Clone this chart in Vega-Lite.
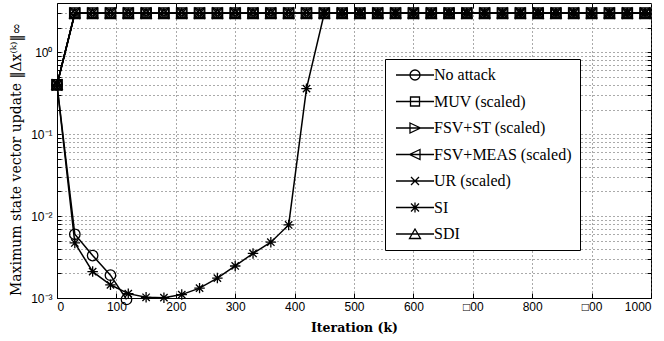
{
  "$schema": "https://vega.github.io/schema/vega-lite/v6.json",
  "width": 594,
  "height": 295,
  "autosize": {"type": "none"},
  "padding": {"left": 57, "top": 3, "right": 13, "bottom": 43},
  "background": "white",
  "config": {
    "view": {"stroke": "black", "strokeWidth": 1},
    "axis": {
      "domainColor": "black",
      "tickColor": "black",
      "labelColor": "black",
      "titleColor": "black",
      "labelFont": "Liberation Sans",
      "labelFontSize": 12,
      "titleFont": "DejaVu Serif",
      "titleFontWeight": "bold",
      "gridColor": "#555555",
      "gridDash": [1, 3],
      "gridOpacity": 1,
      "gridWidth": 1,
      "labelOverlap": false
    }
  },
  "data": {
    "values": [
      {"s": "No attack", "k": 0, "v": 0.4},
      {"s": "No attack", "k": 30, "v": 0.006},
      {"s": "No attack", "k": 60, "v": 0.0033},
      {"s": "No attack", "k": 90, "v": 0.0019},
      {"s": "No attack", "k": 117, "v": 0.00096},
      {"s": "SI", "k": 0, "v": 0.4},
      {"s": "SI", "k": 30, "v": 0.0047},
      {"s": "SI", "k": 60, "v": 0.0021},
      {"s": "SI", "k": 90, "v": 0.00145},
      {"s": "SI", "k": 120, "v": 0.00113},
      {"s": "SI", "k": 150, "v": 0.00102},
      {"s": "SI", "k": 180, "v": 0.00101},
      {"s": "SI", "k": 210, "v": 0.0011},
      {"s": "SI", "k": 240, "v": 0.00132},
      {"s": "SI", "k": 270, "v": 0.00175},
      {"s": "SI", "k": 300, "v": 0.00246},
      {"s": "SI", "k": 330, "v": 0.0035},
      {"s": "SI", "k": 360, "v": 0.0048},
      {"s": "SI", "k": 390, "v": 0.0078},
      {"s": "SI", "k": 420, "v": 0.36},
      {"s": "SI", "k": 450, "v": 3},
      {"s": "SI", "k": 480, "v": 3},
      {"s": "SI", "k": 510, "v": 3},
      {"s": "SI", "k": 540, "v": 3},
      {"s": "SI", "k": 570, "v": 3},
      {"s": "SI", "k": 600, "v": 3},
      {"s": "SI", "k": 630, "v": 3},
      {"s": "SI", "k": 660, "v": 3},
      {"s": "SI", "k": 690, "v": 3},
      {"s": "SI", "k": 720, "v": 3},
      {"s": "SI", "k": 750, "v": 3},
      {"s": "SI", "k": 780, "v": 3},
      {"s": "SI", "k": 810, "v": 3},
      {"s": "SI", "k": 840, "v": 3},
      {"s": "SI", "k": 870, "v": 3},
      {"s": "SI", "k": 900, "v": 3},
      {"s": "SI", "k": 930, "v": 3},
      {"s": "SI", "k": 960, "v": 3},
      {"s": "SI", "k": 990, "v": 3},
      {"s": "MUV (scaled)", "k": 0, "v": 0.4},
      {"s": "MUV (scaled)", "k": 30, "v": 3},
      {"s": "MUV (scaled)", "k": 60, "v": 3},
      {"s": "MUV (scaled)", "k": 90, "v": 3},
      {"s": "MUV (scaled)", "k": 120, "v": 3},
      {"s": "MUV (scaled)", "k": 150, "v": 3},
      {"s": "MUV (scaled)", "k": 180, "v": 3},
      {"s": "MUV (scaled)", "k": 210, "v": 3},
      {"s": "MUV (scaled)", "k": 240, "v": 3},
      {"s": "MUV (scaled)", "k": 270, "v": 3},
      {"s": "MUV (scaled)", "k": 300, "v": 3},
      {"s": "MUV (scaled)", "k": 330, "v": 3},
      {"s": "MUV (scaled)", "k": 360, "v": 3},
      {"s": "MUV (scaled)", "k": 390, "v": 3},
      {"s": "MUV (scaled)", "k": 420, "v": 3},
      {"s": "MUV (scaled)", "k": 450, "v": 3},
      {"s": "MUV (scaled)", "k": 480, "v": 3},
      {"s": "MUV (scaled)", "k": 510, "v": 3},
      {"s": "MUV (scaled)", "k": 540, "v": 3},
      {"s": "MUV (scaled)", "k": 570, "v": 3},
      {"s": "MUV (scaled)", "k": 600, "v": 3},
      {"s": "MUV (scaled)", "k": 630, "v": 3},
      {"s": "MUV (scaled)", "k": 660, "v": 3},
      {"s": "MUV (scaled)", "k": 690, "v": 3},
      {"s": "MUV (scaled)", "k": 720, "v": 3},
      {"s": "MUV (scaled)", "k": 750, "v": 3},
      {"s": "MUV (scaled)", "k": 780, "v": 3},
      {"s": "MUV (scaled)", "k": 810, "v": 3},
      {"s": "MUV (scaled)", "k": 840, "v": 3},
      {"s": "MUV (scaled)", "k": 870, "v": 3},
      {"s": "MUV (scaled)", "k": 900, "v": 3},
      {"s": "MUV (scaled)", "k": 930, "v": 3},
      {"s": "MUV (scaled)", "k": 960, "v": 3},
      {"s": "MUV (scaled)", "k": 990, "v": 3},
      {"s": "FSV+ST (scaled)", "k": 0, "v": 0.4},
      {"s": "FSV+ST (scaled)", "k": 30, "v": 3},
      {"s": "FSV+ST (scaled)", "k": 60, "v": 3},
      {"s": "FSV+ST (scaled)", "k": 90, "v": 3},
      {"s": "FSV+ST (scaled)", "k": 120, "v": 3},
      {"s": "FSV+ST (scaled)", "k": 150, "v": 3},
      {"s": "FSV+ST (scaled)", "k": 180, "v": 3},
      {"s": "FSV+ST (scaled)", "k": 210, "v": 3},
      {"s": "FSV+ST (scaled)", "k": 240, "v": 3},
      {"s": "FSV+ST (scaled)", "k": 270, "v": 3},
      {"s": "FSV+ST (scaled)", "k": 300, "v": 3},
      {"s": "FSV+ST (scaled)", "k": 330, "v": 3},
      {"s": "FSV+ST (scaled)", "k": 360, "v": 3},
      {"s": "FSV+ST (scaled)", "k": 390, "v": 3},
      {"s": "FSV+ST (scaled)", "k": 420, "v": 3},
      {"s": "FSV+ST (scaled)", "k": 450, "v": 3},
      {"s": "FSV+ST (scaled)", "k": 480, "v": 3},
      {"s": "FSV+ST (scaled)", "k": 510, "v": 3},
      {"s": "FSV+ST (scaled)", "k": 540, "v": 3},
      {"s": "FSV+ST (scaled)", "k": 570, "v": 3},
      {"s": "FSV+ST (scaled)", "k": 600, "v": 3},
      {"s": "FSV+ST (scaled)", "k": 630, "v": 3},
      {"s": "FSV+ST (scaled)", "k": 660, "v": 3},
      {"s": "FSV+ST (scaled)", "k": 690, "v": 3},
      {"s": "FSV+ST (scaled)", "k": 720, "v": 3},
      {"s": "FSV+ST (scaled)", "k": 750, "v": 3},
      {"s": "FSV+ST (scaled)", "k": 780, "v": 3},
      {"s": "FSV+ST (scaled)", "k": 810, "v": 3},
      {"s": "FSV+ST (scaled)", "k": 840, "v": 3},
      {"s": "FSV+ST (scaled)", "k": 870, "v": 3},
      {"s": "FSV+ST (scaled)", "k": 900, "v": 3},
      {"s": "FSV+ST (scaled)", "k": 930, "v": 3},
      {"s": "FSV+ST (scaled)", "k": 960, "v": 3},
      {"s": "FSV+ST (scaled)", "k": 990, "v": 3},
      {"s": "FSV+MEAS (scaled)", "k": 0, "v": 0.4},
      {"s": "FSV+MEAS (scaled)", "k": 30, "v": 3},
      {"s": "FSV+MEAS (scaled)", "k": 60, "v": 3},
      {"s": "FSV+MEAS (scaled)", "k": 90, "v": 3},
      {"s": "FSV+MEAS (scaled)", "k": 120, "v": 3},
      {"s": "FSV+MEAS (scaled)", "k": 150, "v": 3},
      {"s": "FSV+MEAS (scaled)", "k": 180, "v": 3},
      {"s": "FSV+MEAS (scaled)", "k": 210, "v": 3},
      {"s": "FSV+MEAS (scaled)", "k": 240, "v": 3},
      {"s": "FSV+MEAS (scaled)", "k": 270, "v": 3},
      {"s": "FSV+MEAS (scaled)", "k": 300, "v": 3},
      {"s": "FSV+MEAS (scaled)", "k": 330, "v": 3},
      {"s": "FSV+MEAS (scaled)", "k": 360, "v": 3},
      {"s": "FSV+MEAS (scaled)", "k": 390, "v": 3},
      {"s": "FSV+MEAS (scaled)", "k": 420, "v": 3},
      {"s": "FSV+MEAS (scaled)", "k": 450, "v": 3},
      {"s": "FSV+MEAS (scaled)", "k": 480, "v": 3},
      {"s": "FSV+MEAS (scaled)", "k": 510, "v": 3},
      {"s": "FSV+MEAS (scaled)", "k": 540, "v": 3},
      {"s": "FSV+MEAS (scaled)", "k": 570, "v": 3},
      {"s": "FSV+MEAS (scaled)", "k": 600, "v": 3},
      {"s": "FSV+MEAS (scaled)", "k": 630, "v": 3},
      {"s": "FSV+MEAS (scaled)", "k": 660, "v": 3},
      {"s": "FSV+MEAS (scaled)", "k": 690, "v": 3},
      {"s": "FSV+MEAS (scaled)", "k": 720, "v": 3},
      {"s": "FSV+MEAS (scaled)", "k": 750, "v": 3},
      {"s": "FSV+MEAS (scaled)", "k": 780, "v": 3},
      {"s": "FSV+MEAS (scaled)", "k": 810, "v": 3},
      {"s": "FSV+MEAS (scaled)", "k": 840, "v": 3},
      {"s": "FSV+MEAS (scaled)", "k": 870, "v": 3},
      {"s": "FSV+MEAS (scaled)", "k": 900, "v": 3},
      {"s": "FSV+MEAS (scaled)", "k": 930, "v": 3},
      {"s": "FSV+MEAS (scaled)", "k": 960, "v": 3},
      {"s": "FSV+MEAS (scaled)", "k": 990, "v": 3},
      {"s": "UR (scaled)", "k": 0, "v": 0.4},
      {"s": "UR (scaled)", "k": 30, "v": 3},
      {"s": "UR (scaled)", "k": 60, "v": 3},
      {"s": "UR (scaled)", "k": 90, "v": 3},
      {"s": "UR (scaled)", "k": 120, "v": 3},
      {"s": "UR (scaled)", "k": 150, "v": 3},
      {"s": "UR (scaled)", "k": 180, "v": 3},
      {"s": "UR (scaled)", "k": 210, "v": 3},
      {"s": "UR (scaled)", "k": 240, "v": 3},
      {"s": "UR (scaled)", "k": 270, "v": 3},
      {"s": "UR (scaled)", "k": 300, "v": 3},
      {"s": "UR (scaled)", "k": 330, "v": 3},
      {"s": "UR (scaled)", "k": 360, "v": 3},
      {"s": "UR (scaled)", "k": 390, "v": 3},
      {"s": "UR (scaled)", "k": 420, "v": 3},
      {"s": "UR (scaled)", "k": 450, "v": 3},
      {"s": "UR (scaled)", "k": 480, "v": 3},
      {"s": "UR (scaled)", "k": 510, "v": 3},
      {"s": "UR (scaled)", "k": 540, "v": 3},
      {"s": "UR (scaled)", "k": 570, "v": 3},
      {"s": "UR (scaled)", "k": 600, "v": 3},
      {"s": "UR (scaled)", "k": 630, "v": 3},
      {"s": "UR (scaled)", "k": 660, "v": 3},
      {"s": "UR (scaled)", "k": 690, "v": 3},
      {"s": "UR (scaled)", "k": 720, "v": 3},
      {"s": "UR (scaled)", "k": 750, "v": 3},
      {"s": "UR (scaled)", "k": 780, "v": 3},
      {"s": "UR (scaled)", "k": 810, "v": 3},
      {"s": "UR (scaled)", "k": 840, "v": 3},
      {"s": "UR (scaled)", "k": 870, "v": 3},
      {"s": "UR (scaled)", "k": 900, "v": 3},
      {"s": "UR (scaled)", "k": 930, "v": 3},
      {"s": "UR (scaled)", "k": 960, "v": 3},
      {"s": "UR (scaled)", "k": 990, "v": 3},
      {"s": "SDI", "k": 0, "v": 0.4},
      {"s": "SDI", "k": 30, "v": 3},
      {"s": "SDI", "k": 60, "v": 3},
      {"s": "SDI", "k": 90, "v": 3},
      {"s": "SDI", "k": 120, "v": 3},
      {"s": "SDI", "k": 150, "v": 3},
      {"s": "SDI", "k": 180, "v": 3},
      {"s": "SDI", "k": 210, "v": 3},
      {"s": "SDI", "k": 240, "v": 3},
      {"s": "SDI", "k": 270, "v": 3},
      {"s": "SDI", "k": 300, "v": 3},
      {"s": "SDI", "k": 330, "v": 3},
      {"s": "SDI", "k": 360, "v": 3},
      {"s": "SDI", "k": 390, "v": 3},
      {"s": "SDI", "k": 420, "v": 3},
      {"s": "SDI", "k": 450, "v": 3},
      {"s": "SDI", "k": 480, "v": 3},
      {"s": "SDI", "k": 510, "v": 3},
      {"s": "SDI", "k": 540, "v": 3},
      {"s": "SDI", "k": 570, "v": 3},
      {"s": "SDI", "k": 600, "v": 3},
      {"s": "SDI", "k": 630, "v": 3},
      {"s": "SDI", "k": 660, "v": 3},
      {"s": "SDI", "k": 690, "v": 3},
      {"s": "SDI", "k": 720, "v": 3},
      {"s": "SDI", "k": 750, "v": 3},
      {"s": "SDI", "k": 780, "v": 3},
      {"s": "SDI", "k": 810, "v": 3},
      {"s": "SDI", "k": 840, "v": 3},
      {"s": "SDI", "k": 870, "v": 3},
      {"s": "SDI", "k": 900, "v": 3},
      {"s": "SDI", "k": 930, "v": 3},
      {"s": "SDI", "k": 960, "v": 3},
      {"s": "SDI", "k": 990, "v": 3}
    ]
  },
  "encoding": {
    "x": {
      "field": "k",
      "type": "quantitative",
      "scale": {"domain": [0, 1000], "nice": false, "zero": false},
      "axis": {
        "values": [0, 100, 200, 300, 400, 500, 600, 700, 800, 900, 1000],
        "format": "d",
        "labelExpr": "datum.value == 700 || datum.value == 900 ? '□00' : datum.label",
        "grid": true,
        "tickSize": -5,
        "labelPadding": 8,
        "title": "Iteration (k)",
        "titleFontSize": 12.5,
        "titleBaseline": "alphabetic",
        "titleY": 33
      }
    },
    "y": {
      "field": "v",
      "type": "quantitative",
      "scale": {"type": "log", "domain": [0.001, 4], "nice": false, "zero": false},
      "axis": {
        "values": [0.001, 0.002, 0.003, 0.004, 0.005, 0.006, 0.007, 0.008, 0.009, 0.01, 0.02, 0.03, 0.04, 0.05, 0.06, 0.07, 0.08, 0.09, 0.1, 0.2, 0.3, 0.4, 0.5, 0.6, 0.7, 0.8, 0.9, 1, 2, 3],
        "labelExpr": "datum.value == 0.001 ? '10⁻³' : datum.value == 0.01 ? '10⁻²' : datum.value == 0.1 ? '10⁻¹' : datum.value == 1 ? '10⁰' : ''",
        "grid": true,
        "tickSize": -4,
        "labelPadding": 9,
        "title": "Maximum state vector update ‖Δx⁽ᵏ⁾‖∞",
        "titleFontSize": 14,
        "titleFontWeight": "normal",
        "titleBaseline": "alphabetic",
        "titleX": -37,
        "titleY": 156
      }
    }
  },
  "layer": [
    {
      "mark": {"type": "line", "color": "black", "strokeWidth": 1.5},
      "encoding": {"detail": {"field": "s", "type": "nominal"}}
    },
    {
      "mark": {"type": "point", "filled": false, "color": "black", "strokeWidth": 1.3, "size": 110, "opacity": 1},
      "encoding": {
        "x": {"field": "k", "type": "quantitative", "axis": null},
        "y": {"field": "v", "type": "quantitative", "axis": null},
        "shape": {
          "field": "s",
          "type": "nominal",
          "scale": {
            "domain": ["No attack", "MUV (scaled)", "FSV+ST (scaled)", "FSV+MEAS (scaled)", "UR (scaled)", "SI", "SDI"],
            "range": ["circle", "square", "triangle-right", "triangle-left", "M-0.8,-0.8L0.8,0.8M-0.8,0.8L0.8,-0.8", "M-1,0L1,0M0,-1L0,1M-0.7,-0.7L0.7,0.7M-0.7,0.7L0.7,-0.7", "triangle-up"]
          },
          "legend": null
        }
      }
    },
    {
      "mark": {"type": "point", "filled": false, "color": "black", "strokeWidth": 1.3, "size": 100, "opacity": 0},
      "encoding": {
        "x": {
          "field": "k",
          "type": "quantitative",
          "axis": {"orient": "top", "values": [100, 200, 300, 400, 500, 600, 700, 800, 900], "labels": false, "domain": false, "grid": false, "tickSize": -5, "title": null}
        },
        "y": {
          "field": "v",
          "type": "quantitative",
          "axis": {"orient": "right", "values": [0.002, 0.003, 0.004, 0.005, 0.006, 0.007, 0.008, 0.009, 0.01, 0.02, 0.03, 0.04, 0.05, 0.06, 0.07, 0.08, 0.09, 0.1, 0.2, 0.3, 0.4, 0.5, 0.6, 0.7, 0.8, 0.9, 1, 2, 3], "labels": false, "domain": false, "grid": false, "tickSize": -4, "title": null}
        },
        "shape": {
          "field": "s",
          "type": "nominal",
          "scale": {
            "domain": ["No attack", "MUV (scaled)", "FSV+ST (scaled)", "FSV+MEAS (scaled)", "UR (scaled)", "SI", "SDI"],
            "range": [
              "M-1,0L6.6,0M3.8,0A1,1,0,1,1,1.8,0A1,1,0,1,1,3.8,0",
              "M-1,0L6.6,0M1.9,-0.9L3.7,-0.9L3.7,0.9L1.9,0.9Z",
              "M-1,0L6.6,0M1.8,-1L3.9,0L1.8,1Z",
              "M-1,0L6.6,0M3.8,-1L1.7,0L3.8,1Z",
              "M-1,0L6.6,0M2,-0.8L3.6,0.8M2,0.8L3.6,-0.8",
              "M-1,0L6.6,0M2.8,-1L2.8,1M2,-0.8L3.6,0.8M2,0.8L3.6,-0.8",
              "M-1,0L6.6,0M2.8,-1L3.9,0.9L1.7,0.9Z"
            ]
          },
          "legend": {
            "orient": "none",
            "legendX": 328,
            "legendY": 56,
            "title": null,
            "fillColor": "white",
            "strokeColor": "black",
            "padding": 8,
            "labelFont": "Liberation Serif",
            "labelFontSize": 16,
            "labelColor": "black",
            "symbolSize": 100,
            "symbolStrokeWidth": 1.3,
            "symbolStrokeColor": "black",
            "symbolFillColor": "transparent",
            "symbolOpacity": 1,
            "rowPadding": 10.5,
            "labelOffset": 25
          }
        }
      }
    }
  ],
  "resolve": {"scale": {"shape": "independent"}, "legend": {"shape": "independent"}, "axis": {"x": "independent", "y": "independent"}}
}
